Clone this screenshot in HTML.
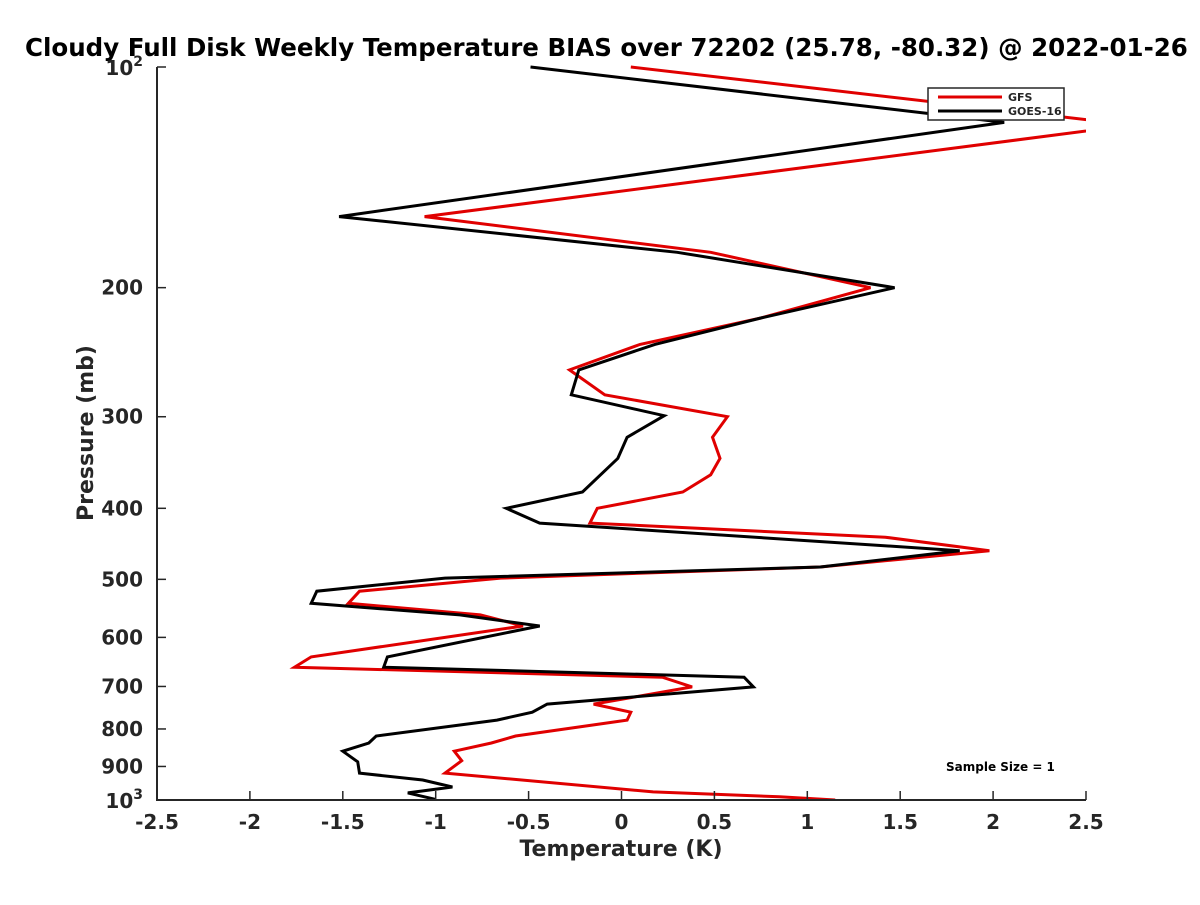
<!DOCTYPE html>
<html><head><meta charset="utf-8"><style>
body{margin:0;background:#fff;overflow:hidden;}
svg text{font-family:"DejaVu Sans","Liberation Sans",sans-serif;font-weight:bold;fill:#262626;}
</style></head><body>
<svg id="chart" width="1200" height="900" xmlns="http://www.w3.org/2000/svg">
<rect width="1200" height="900" fill="#fff"/>
<text x="25" y="56" font-size="24.5" style="fill:#000">Cloudy Full Disk Weekly Temperature BIAS over 72202 (25.78, -80.32) @ 2022-01-26</text>
<defs><clipPath id="plotclip"><rect x="157" y="40" width="929" height="760"/></clipPath></defs>
<g id="series" clip-path="url(#plotclip)"></g>
<g id="axes"></g>
<g>
<rect x="928" y="88" width="136" height="32" fill="#fff" stroke="#262626" stroke-width="1.5"/>
<line x1="938" y1="97" x2="1002" y2="97" stroke="#e00000" stroke-width="3"/>
<text x="1008" y="101" font-size="11">GFS</text>
<line x1="938" y1="111" x2="1002" y2="111" stroke="#000" stroke-width="3"/>
<text x="1008" y="115" font-size="11">GOES-16</text>
</g>
<text x="946" y="771" font-size="12" style="fill:#000">Sample Size = 1</text>
<text x="621" y="856" font-size="22" text-anchor="middle">Temperature (K)</text>
<text transform="translate(93,433) rotate(-90)" font-size="22" text-anchor="middle">Pressure (mb)</text>
</svg>
<script>
const gfsT=[0.05,2.75,-1.06,0.48,1.34,0.75,0.10,-0.28,-0.09,0.57,0.49,0.53,0.48,0.33,-0.13,-0.17,1.42,1.98,1.07,-0.65,-1.41,-1.47,-0.76,-0.53,-1.67,-1.76,0.22,0.38,-0.15,0.05,0.03,-0.57,-0.70,-0.90,-0.86,-0.95,0.17,0.85,1.15];
const gfsP=[100,120,160,179,200,220,239,259,280,300,320,342,360,380,400,419,438,457,481,498,519,539,559,579,638,659,680,701,740,759,778,818,836,858,884,919,975,990,1000];
const goesT=[-0.49,2.06,-1.52,0.30,1.47,0.75,0.18,-0.23,-0.27,0.23,0.03,-0.02,-0.21,-0.62,-0.44,1.82,1.07,-0.95,-1.64,-1.67,-0.87,-0.44,-1.26,-1.28,0.66,0.71,-0.40,-0.48,-0.67,-1.32,-1.36,-1.50,-1.42,-1.41,-1.07,-0.91,-1.15,-1.00];
const goesP=[100,119,160,179,200,220,239,259,280,299,320,342,380,400,419,457,481,498,519,539,559,579,638,659,680,701,740,759,778,818,836,858,887,919,939,960,978,998];
const xTicks=[-2.5,-2,-1.5,-1,-0.5,0,0.5,1,1.5,2,2.5];
const yTicks=[100,200,300,400,500,600,700,800,900,1000];
const yLabels=["","200","300","400","500","600","700","800","900",""];
const NS="http://www.w3.org/2000/svg";
const X0=157,X1=1086,Y0=67,Y1=800;
function xs(t){return X0+(t+2.5)/5*(X1-X0);}
function ys(p){return Y0+(Math.log10(p)-2)*(Y1-Y0);}
function mk(tag,attrs,parent){const e=document.createElementNS(NS,tag);for(const k in attrs)e.setAttribute(k,attrs[k]);parent.appendChild(e);return e;}
const series=document.getElementById('series'),axes=document.getElementById('axes');
function line(T,P,color,name){
  const pts=T.map((t,i)=>xs(t).toFixed(1)+','+ys(P[i]).toFixed(1)).join(' ');
  const pl=mk('polyline',{points:pts,fill:'none',stroke:color,'stroke-width':3,'stroke-linejoin':'miter'},series);
  
  
}
line(gfsT,gfsP,'#e00000','gfs-line');
line(goesT,goesP,'#000000','goes16-line');
const ax=mk('path',{d:`M${X0},${Y0}V${Y1}H${X1}`,fill:'none',stroke:'#262626','stroke-width':2},axes);


xTicks.forEach(t=>{
  const x=xs(t);
  mk('line',{x1:x,y1:Y1,x2:x,y2:Y1-9,stroke:'#262626','stroke-width':1.5},axes);
  const tx=mk('text',{x:x,y:Y1+29,'font-size':20,'text-anchor':'middle'},axes);
  tx.textContent=String(t);
  
  
});
yTicks.forEach((p,i)=>{
  const y=ys(p);
  mk('line',{x1:X0,y1:y,x2:X0+9,y2:y,stroke:'#262626','stroke-width':1.5},axes);
  if(yLabels[i]){
    const tx=mk('text',{x:X0-14,y:y+7,'font-size':20,'text-anchor':'end'},axes);
    tx.textContent=yLabels[i];
    
    
  }
});
[[100,'2'],[1000,'3']].forEach(([p,e])=>{
  const y=ys(p);
  const tx=mk('text',{x:X0-14,y:y+8,'font-size':20,'text-anchor':'end'},axes);
  
  
  tx.textContent='10';
  const s=mk('tspan',{dy:-9,'font-size':14},tx);s.textContent=e;
});
</script>
</body></html>
